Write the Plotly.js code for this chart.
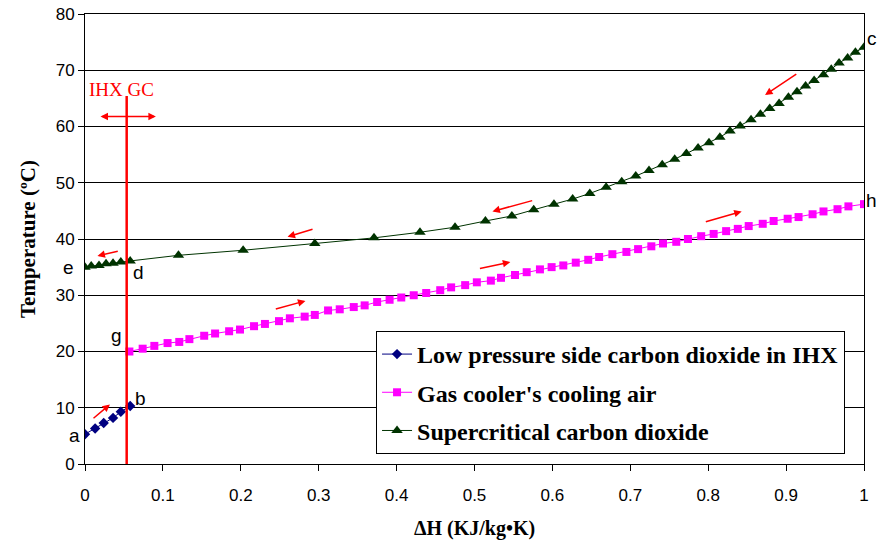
<!DOCTYPE html>
<html><head><meta charset="utf-8">
<script src="https://cdn.plot.ly/plotly-3.0.1.min.js"></script>
<style>body{margin:0;background:#fff;}</style>
</head><body><div id="chart" style="width:879px;height:544px;"></div>
<script>
// Low pressure side carbon dioxide in IHX
const lowX = [0, 0.013, 0.024, 0.036, 0.046, 0.058];
const lowY = [5.3, 6.3, 7.3, 8.2, 9.3, 10.3];
// Gas cooler's cooling air
const pinkX = [0.057, 0.074, 0.089, 0.106, 0.121, 0.134, 0.153, 0.167, 0.185, 0.199, 0.217, 0.231, 0.249, 0.263,
  0.282, 0.295, 0.312, 0.327, 0.345, 0.359, 0.375, 0.391, 0.406, 0.422, 0.438, 0.456, 0.470, 0.488, 0.503, 0.521,
  0.534, 0.552, 0.567, 0.584, 0.599, 0.614, 0.630, 0.646, 0.660, 0.677, 0.695, 0.710, 0.727, 0.742, 0.759, 0.774,
  0.791, 0.807, 0.823, 0.838, 0.852, 0.870, 0.884, 0.902, 0.916, 0.934, 0.948, 0.966, 0.980, 1.0];
const pinkY = [20.0, 20.5, 21.0, 21.5, 21.7, 22.2, 22.8, 23.2, 23.6, 23.9, 24.5, 24.9, 25.4, 25.9,
  26.2, 26.5, 27.3, 27.5, 27.9, 28.2, 28.8, 29.2, 29.6, 30.0, 30.4, 30.9, 31.4, 31.8, 32.3, 32.6,
  33.1, 33.6, 34.1, 34.6, 35.0, 35.3, 35.8, 36.3, 36.8, 37.3, 37.7, 38.2, 38.7, 39.2, 39.5, 40.0,
  40.5, 40.9, 41.4, 41.8, 42.3, 42.7, 43.2, 43.6, 43.9, 44.4, 44.9, 45.3, 45.8, 46.2];
// Supercritical carbon dioxide
const greenX = [0, 0.008, 0.018, 0.027, 0.036, 0.046, 0.058, 0.120, 0.203, 0.295, 0.371, 0.430, 0.475, 0.514,
  0.548, 0.576, 0.602, 0.626, 0.648, 0.669, 0.689, 0.707, 0.724, 0.741, 0.757, 0.772, 0.787, 0.801, 0.815,
  0.828, 0.841, 0.855, 0.867, 0.879, 0.891, 0.903, 0.914, 0.925, 0.936, 0.948, 0.958, 0.968, 0.979, 0.989, 1.0];
const greenY = [35.0, 35.2, 35.3, 35.6, 35.7, 35.9, 36.1, 37.1, 38.0, 39.2, 40.2, 41.2, 42.1, 43.2,
  44.1, 45.2, 46.2, 47.1, 48.1, 49.2, 50.2, 51.2, 52.2, 53.2, 54.2, 55.2, 56.2, 57.1, 58.1,
  59.2, 60.1, 61.2, 62.2, 63.2, 64.1, 65.2, 66.2, 67.2, 68.2, 69.2, 70.2, 71.3, 72.2, 73.2, 74.1];
const seriesNames = ["Low pressure side carbon dioxide in IHX", "Gas cooler's cooling air", "Supercritical carbon dioxide"];
// Point labels
const labelText = ["a", "b", "g", "d", "e", "c", "h"];
const labelX = [-0.014, 0.071, 0.041, 0.069, -0.021, 1.010, 1.010];
const labelY = [5.0, 11.7, 22.9, 34.1, 35.0, 75.6, 46.9];
// Flow-direction arrows (tail -> head)
const arrowTailX = [0.009, 0.044, 0.294, 0.576, 0.915, 0.243, 0.505, 0.795];
const arrowTailY = [7.9, 37.9, 41.8, 46.9, 69.5, 27.5, 34.7, 43.0];
const arrowHeadX = [0.032, 0.016, 0.260, 0.523, 0.873, 0.283, 0.546, 0.843];
const arrowHeadY = [10.6, 37.0, 40.4, 44.9, 65.6, 29.0, 35.9, 44.9];
// IHX / GC divider
const dividerX = 0.0535;
const dividerTop = 65.4;

const serif = "'Liberation Serif', 'Times New Roman', serif";
const sans = "'Liberation Sans', Arial, sans-serif";
const yMax = 80;

const traces = [
  {x: lowX, y: lowY, name: seriesNames[0], mode: 'lines+markers', legendgroup: 'a',
   line: {color: '#000080', width: 1}, marker: {symbol: 'diamond', size: 8, color: '#000080'}},
  {x: pinkX, y: pinkY, name: seriesNames[1], mode: 'lines+markers', legendgroup: 'b',
   line: {color: '#FF00FF', width: 1}, marker: {symbol: 'square', size: 8, color: '#FF00FF'}},
  {x: greenX, y: greenY, name: seriesNames[2], mode: 'lines+markers', legendgroup: 'c',
   line: {color: '#003300', width: 1}, marker: {symbol: 'triangle-up', size: 10, color: '#003300'}}
];

const annotations = [];
for (let i = 0; i < labelText.length; i++) {
  annotations.push({x: labelX[i], y: labelY[i] / yMax, xref: 'paper', yref: 'paper', xanchor: 'center', yanchor: 'middle',
    text: labelText[i], showarrow: false, font: {family: sans, size: 19, color: '#000'}});
}
for (let i = 0; i < arrowTailX.length; i++) {
  annotations.push({x: arrowHeadX[i], y: arrowHeadY[i], ax: arrowTailX[i], ay: arrowTailY[i],
    xref: 'x', yref: 'y', axref: 'x', ayref: 'y', text: '', showarrow: true,
    arrowhead: 2, arrowsize: 1, arrowwidth: 1.5, arrowcolor: '#FF0000'});
}
// double arrow
annotations.push({x: 0.091, y: 61.8, ax: 0.018, ay: 61.8, xref: 'x', yref: 'y', axref: 'x', ayref: 'y',
  text: '', showarrow: true, arrowhead: 2, startarrowhead: 2, arrowside: 'end+start', arrowsize: 1,
  arrowwidth: 1.5, arrowcolor: '#FF0000'});
annotations.push({x: 0.047, y: 66.6, xref: 'x', yref: 'y', text: 'IHX GC', showarrow: false,
  font: {family: serif, size: 19, color: '#FF0000'}});

const layout = {
  width: 879, height: 544,
  margin: {l: 85, r: 15, t: 14, b: 80},
  paper_bgcolor: '#fff', plot_bgcolor: '#fff',
  showlegend: true,
  legend: {x: 0.3736, y: 0.2956, xanchor: 'left', yanchor: 'top', bgcolor: '#fff',
    bordercolor: '#000', borderwidth: 1, traceorder: 'grouped', tracegroupgap: 4,
    font: {family: serif, size: 24, color: '#000', weight: 'bold'}},
  xaxis: {range: [0, 1], dtick: 0.1, tick0: 0, showgrid: false, zeroline: false,
    showline: true, linecolor: '#000', linewidth: 1, mirror: true,
    ticks: 'outside', ticklen: 6, tickcolor: '#000', ticklabelstandoff: 10,
    tickfont: {family: sans, size: 17, color: '#000'},
    title: {text: 'ΔH (KJ/kg•K)', standoff: 16, font: {family: serif, size: 20, color: '#000', weight: 'bold'}}},
  yaxis: {range: [0, yMax], dtick: 10, showgrid: true, gridcolor: '#000', gridwidth: 1, zeroline: false,
    showline: true, linecolor: '#000', linewidth: 1, mirror: true,
    ticks: 'outside', ticklen: 6, tickcolor: '#000',
    tickfont: {family: sans, size: 17, color: '#000'},
    title: {text: 'Temperature (ºC)', standoff: 14, font: {family: serif, size: 21, color: '#000', weight: 'bold'}}},
  shapes: [{type: 'line', xref: 'x', yref: 'y', x0: dividerX, x1: dividerX, y0: 0, y1: dividerTop,
    line: {color: '#FF0000', width: 2.5}}],
  annotations: annotations
};

Plotly.newPlot('chart', traces, layout, {displayModeBar: false, staticPlot: true});
</script></body></html>
